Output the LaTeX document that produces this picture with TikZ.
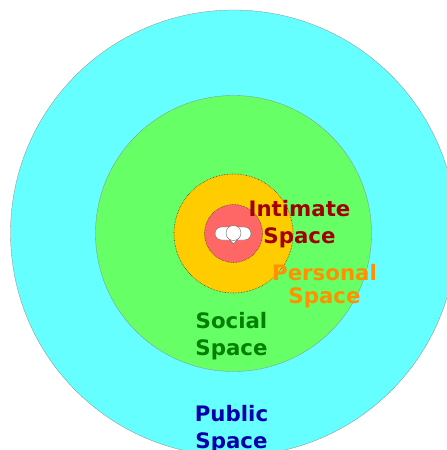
\documentclass[tikz,border=0pt]{standalone}
\usepackage{fontspec}
\setmainfont{DejaVu Sans}
\definecolor{publicfill}{RGB}{102,255,255}
\definecolor{socialfill}{RGB}{102,255,102}
\definecolor{personalfill}{RGB}{255,204,0}
\definecolor{intimatefill}{RGB}{255,102,102}
\definecolor{publictext}{RGB}{0,0,170}
\definecolor{socialtext}{RGB}{0,128,0}
\definecolor{personaltext}{RGB}{255,145,0}
\definecolor{intimatetext}{RGB}{160,0,0}

\begin{document}
\begin{tikzpicture}[x=1pt, y=-1pt, inner sep=0pt, outer sep=0pt]
\tikzstyle{far zone}=[circle, draw=black!45, line width=0.3pt]
\tikzstyle{near zone}=[circle, draw=black!75, line width=0.6pt, densely dotted]
\tikzstyle{zone title}=[font=\fontsize{21.3}{27}\selectfont\bfseries, align=center]
\tikzstyle{body part}=[draw=black!60, line width=0.4pt, fill=white]
\useasboundingbox (0,0) rectangle (447,450);
\clip (0,0) rectangle (447,450);

\node[far zone, fill=publicfill, minimum size=446] (public) at (233.5,233) {};
\node[far zone, fill=socialfill, minimum size=276] (social) at (233.5,233.5) {};
\node[near zone, fill=personalfill, minimum size=119] (personal) at (233.5,233.5) {};
\node[near zone, fill=intimatefill, minimum size=58] (intimate) at (233.5,233.5) {};

% person seen from above
\node[body part, rounded corners=6.5pt, minimum width=36, minimum height=13] (shoulders) at (233,233.5) {};
\draw[body part] (227.5,237) -- (233.5,244) -- (239.5,237) -- cycle;
\node[body part, circle, minimum size=15] (head) at (233.5,233) {};

\node[zone title, text=intimatetext] (intimatetitle) at (299.5,224) {Intimate\\Space};
\node[zone title, text=personaltext] (personaltitle) at (324.5,286.5) {Personal\\[-4pt]Space};
\node[zone title, text=socialtext] (socialtitle) at (231.5,336.5) {Social\\Space};
\node[zone title, text=publictext] (publictitle) at (231.5,429) {Public\\Space};
\end{tikzpicture}
\end{document}
